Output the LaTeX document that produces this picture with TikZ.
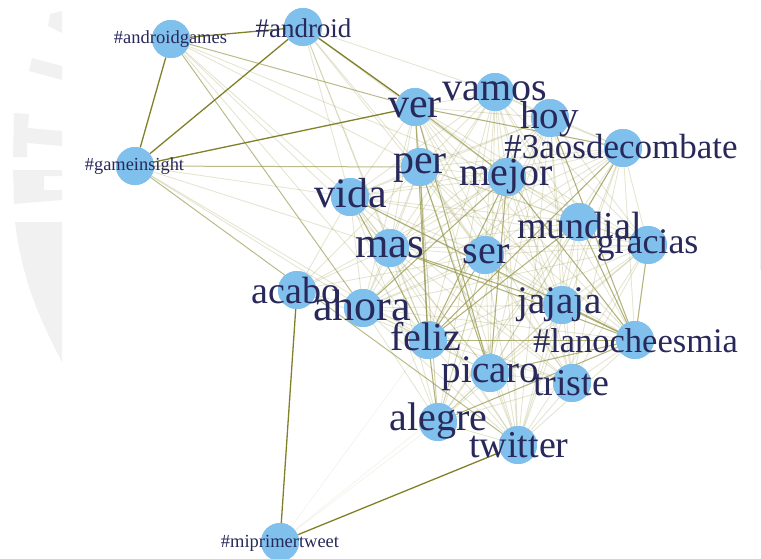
\documentclass[tikz,border=0pt]{standalone}
\usepackage{fontspec}
\setmainfont{Liberation Serif}
\definecolor{nodeblue}{RGB}{128,192,236}
\definecolor{labelc}{RGB}{40,40,90}
\definecolor{edgestrong}{RGB}{128,128,40}
\definecolor{edgec}{RGB}{150,150,75}
\definecolor{wmark}{RGB}{241,241,241}
\newcommand\fsz[1]{\fontsize{#1}{#1}\selectfont}
\begin{document}
\begin{tikzpicture}[x=1pt,y=-1pt,
  nd/.style={circle, fill=nodeblue, minimum size=38pt, inner sep=0pt},
  lbl/.style={anchor=base, inner sep=0pt, text=labelc},
  strong/.style={draw=edgestrong, line width=1.3pt},
  med/.style={draw=edgec, line width=1pt, opacity=0.65},
  faint/.style={draw=edgec, line width=0.9pt, opacity=0.25},
  vfaint/.style={draw=edgec, line width=0.8pt, opacity=0.1}]
\useasboundingbox (0,0) rectangle (761,558);
% watermark fragment on the left
\begin{scope}
\clip (0,0) rectangle (62,558);
\fill[wmark] (50,14) -- (62,11) -- (62,33) -- (48,26) -- cycle;
\fill[wmark] (32,58) -- (62,66) -- (62,80) -- (29,71) -- cycle;
\fill[wmark] (14,113) -- (29,114) -- (28,128) -- (62,131) -- (62,146) -- (27,143) -- (27,157) -- (13,157) -- cycle;
\fill[wmark] (13,170) -- (62,170) -- (62,176) -- (44,176) -- (44,190) -- (62,190) -- (62,200) -- (14,204) -- cycle;
\fill[wmark] (15,222) -- (62,222) -- (62,362) .. controls (40,320) and (22,280) .. (15,222) -- cycle;
\end{scope}
\draw[wmark, line width=0.6pt] (760,80) -- (760,270);
% nodes
\foreach \n/\x/\y in {ag/171/39, an/303/27, gi/135/166, ver/415/107, vamos/495/92,
  hoy/550/118, tres/623/148, per/420/167, mejor/507/177, vida/350/197, mas/390/248,
  ser/485/255, mundial/579/222, gracias/648/245, acabo/297/290, ahora/363/308,
  feliz/428/340, jajaja/562/305, noche/635/340, picaro/490/373, triste/572/383,
  alegre/438/422, twitter/518/445, mpt/280/542}
  {\path (\x,\y) node[nd] (\n) {};}
% edges: core mesh
\foreach \a [count=\i] in {ver,vamos,hoy,tres,per,mejor,vida,mas,ser,mundial,gracias,ahora,feliz,jajaja,noche,picaro,triste,alegre,twitter}{
  \foreach \b [count=\j] in {ver,vamos,hoy,tres,per,mejor,vida,mas,ser,mundial,gracias,ahora,feliz,jajaja,noche,picaro,triste,alegre,twitter}{
    \ifnum\j>\i \draw[faint] (\a) -- (\b); \fi
  }
}
\foreach \a/\b in {ver/mejor, ver/feliz, mejor/feliz, mejor/picaro, ser/feliz, mas/jajaja,
  feliz/noche, jajaja/noche, noche/mundial, tres/mundial, tres/ver, hoy/noche, picaro/noche,
  vida/feliz, per/feliz, feliz/alegre, mas/noche, mejor/noche, ver/picaro, vida/noche,
  tres/feliz, mundial/feliz, gracias/noche, ahora/mejor, per/picaro}
  {\draw[med] (\a) -- (\b);}
\foreach \a/\b in {an/per, an/vida, an/mas, an/mejor, an/feliz, an/vamos, an/ser,
  ag/per, ag/mejor, ag/vida, ag/mas, ag/feliz, gi/vida, gi/mas, gi/ahora, gi/feliz,
  acabo/vida, acabo/mas, acabo/ahora, acabo/per, acabo/feliz, acabo/ser, acabo/mejor}
  {\draw[faint] (\a) -- (\b);}
\foreach \a/\b in {mpt/alegre, mpt/feliz, mpt/picaro}
  {\draw[vfaint] (\a) -- (\b);}
\foreach \a/\b in {ag/ver, gi/per, ag/ahora, gi/twitter, alegre/noche}
  {\draw[med] (\a) -- (\b);}
\foreach \a/\b in {ag/an, ag/gi, an/gi, an/ver, gi/ver, acabo/mpt, mpt/twitter}
  {\draw[strong] (\a) -- (\b);}
% redraw circles on top of edges
\foreach \n in {ag,an,gi,ver,vamos,hoy,tres,per,mejor,vida,mas,ser,mundial,gracias,acabo,ahora,feliz,jajaja,noche,picaro,triste,alegre,twitter,mpt}
  {\fill[nodeblue] (\n.center) circle (19);}
% labels
\foreach \n/\t/\s/\lx/\ly in {ag/\#androidgames/18.5/170.5/43, an/\#android/27/303.5/37,
  gi/\#gameinsight/18.4/134.5/170, ver/ver/42/415/117, vamos/vamos/40/495/100,
  hoy/hoy/39/549.5/128, tres/\#3aosdecombate/35/621/158, per/per/42/420/173,
  mejor/mejor/40/506/185, vida/vida/42/351/207, mas/mas/43/390/257, ser/ser/40/486/263,
  mundial/mundial/38/579.5/238, gracias/gracias/36/647.5/253, acabo/acabo/38/296/303,
  ahora/ahora/44/362/320, feliz/feliz/40/426/350, jajaja/jajaja/39/559.5/313,
  noche/\#lanocheesmia/34.5/635.5/352, picaro/picaro/39/490.5/382, triste/triste/38/571/395,
  alegre/alegre/40/438.5/430, twitter/twitter/38/519/457, mpt/\#miprimertweet/18.5/280/547}
  {\node[lbl, font=\fsz{\s}] (L\n) at (\lx,\ly) {\t};}
\end{tikzpicture}
\end{document}
